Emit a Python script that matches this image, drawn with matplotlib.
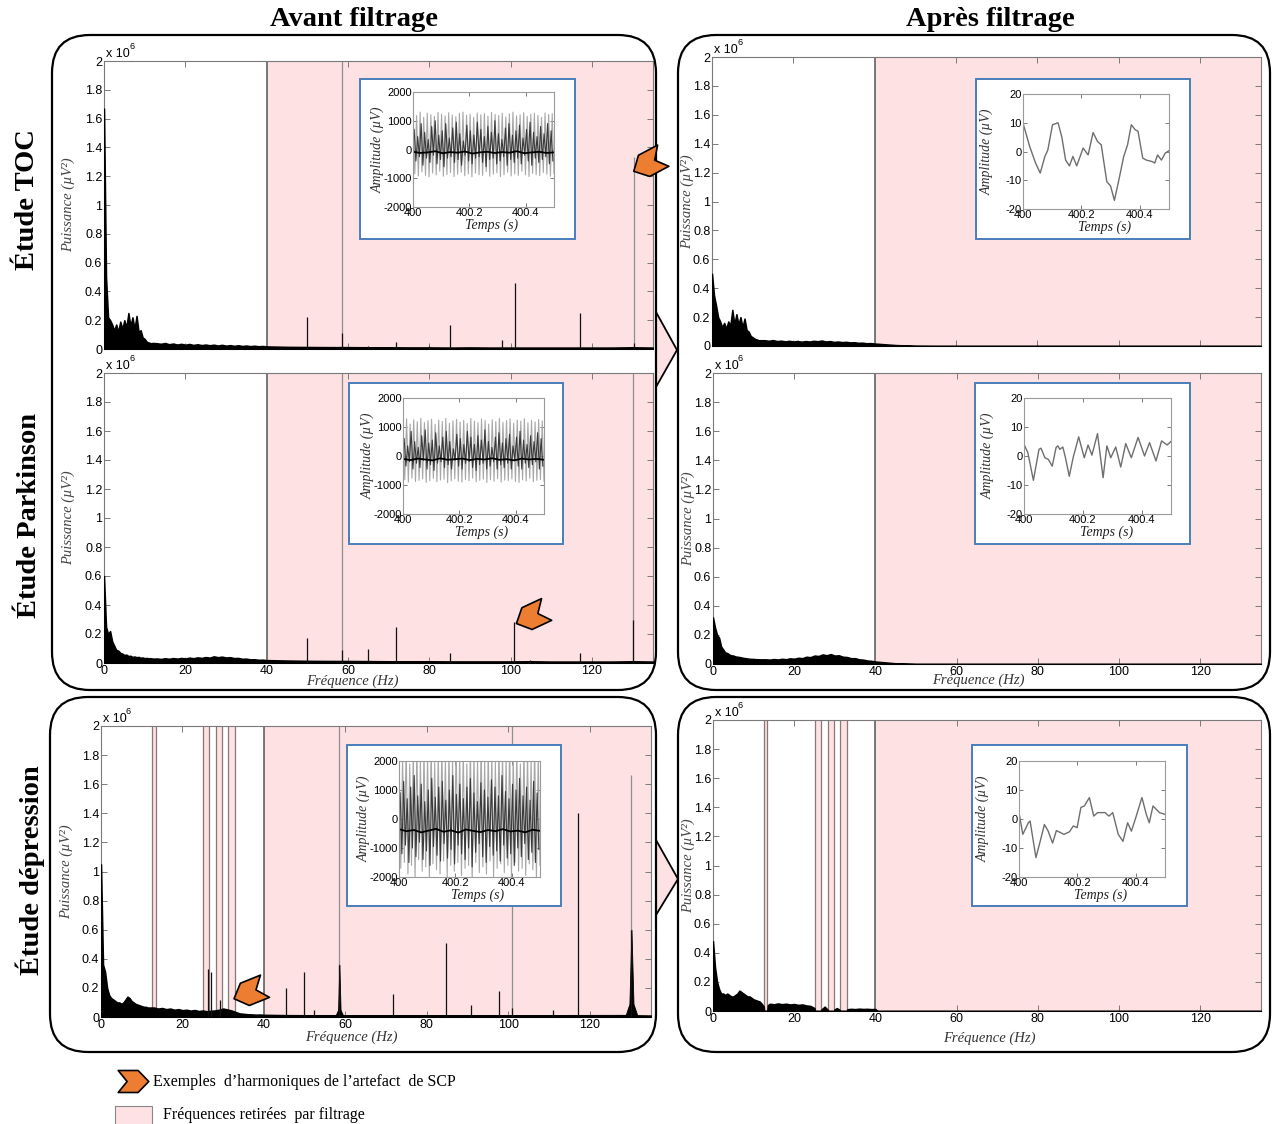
import numpy as np
import matplotlib
matplotlib.use("Agg")
import matplotlib.pyplot as plt
from matplotlib.patches import FancyBboxPatch, Rectangle, Polygon
from matplotlib.path import Path
from matplotlib.markers import MarkerStyle
from matplotlib.transforms import Affine2D
from matplotlib.ticker import FuncFormatter, FixedLocator
from matplotlib.lines import Line2D

# ======================= DATA =======================
# Power spectra (units of 1e6 uV^2) on a common frequency grid (Hz)
FREQ = [0, 0.5, 1, 1.5, 2, 2.5, 3, 3.5, 4, 4.5, 5, 5.5, 6, 6.5, 7, 7.5, 8, 8.5, 9, 9.5,
        10, 10.5, 11, 11.5, 12,
        13, 14, 15, 16, 17, 18, 19, 20, 21, 22, 23, 24, 25, 26, 27, 28, 29, 30, 31, 32, 33, 34,
        35, 36, 37, 38, 39, 40,
        45, 50, 55, 60, 65, 70, 75, 80, 85, 90, 95, 100, 105, 110, 115, 120, 125, 130, 135]

TOC_AVANT = [1.67, 0.50, 0.22, 0.20, 0.17, 0.13, 0.17, 0.12, 0.19, 0.14, 0.20, 0.15, 0.25, 0.16,
             0.22, 0.14, 0.23, 0.12, 0.13, 0.08, 0.07, 0.05, 0.045, 0.04, 0.042,
             0.04, 0.036, 0.042, 0.033, 0.038, 0.031, 0.036, 0.03, 0.035, 0.028, 0.033, 0.027, 0.031,
             0.026, 0.03, 0.024, 0.029, 0.023, 0.027, 0.022, 0.026, 0.021, 0.024, 0.02, 0.023, 0.019,
             0.021, 0.018,
             0.015, 0.014, 0.013, 0.013, 0.012, 0.012, 0.011, 0.011, 0.010, 0.011, 0.010, 0.010, 0.010,
             0.010, 0.010, 0.010, 0.010, 0.012, 0.010]
TOC_APRES = [0.50, 0.35, 0.28, 0.20, 0.17, 0.13, 0.16, 0.12, 0.17, 0.14, 0.25, 0.15, 0.22, 0.15,
             0.20, 0.13, 0.19, 0.11, 0.10, 0.07, 0.06, 0.05, 0.045, 0.04, 0.04,
             0.04, 0.036, 0.041, 0.034, 0.037, 0.032, 0.036, 0.031, 0.035, 0.03, 0.034, 0.031, 0.036,
             0.033, 0.038, 0.031, 0.034, 0.028, 0.031, 0.027, 0.029, 0.025, 0.026, 0.022, 0.023, 0.019,
             0.02, 0.017,
             0.007, 0.001, 0, 0, 0, 0, 0, 0, 0, 0, 0, 0, 0, 0, 0, 0, 0, 0, 0]
PARK_AVANT = [0.60, 0.25, 0.20, 0.22, 0.15, 0.12, 0.09, 0.085, 0.07, 0.065, 0.055, 0.058, 0.048, 0.05,
              0.042, 0.045, 0.04, 0.042, 0.036, 0.038, 0.033, 0.035, 0.032, 0.033, 0.03,
              0.031, 0.028, 0.033, 0.029, 0.034, 0.03, 0.035, 0.031, 0.037, 0.033, 0.039, 0.035, 0.041,
              0.037, 0.046, 0.04, 0.044, 0.038, 0.04, 0.034, 0.035, 0.029, 0.03, 0.025, 0.026, 0.022,
              0.023, 0.02,
              0.017, 0.015, 0.014, 0.014, 0.013, 0.012, 0.012, 0.012, 0.011, 0.011, 0.011, 0.011, 0.012,
              0.010, 0.010, 0.010, 0.010, 0.012, 0.010]
PARK_APRES = [0.32, 0.25, 0.20, 0.18, 0.12, 0.10, 0.08, 0.075, 0.065, 0.06, 0.058, 0.052, 0.05, 0.048,
              0.045, 0.042, 0.04, 0.038, 0.036, 0.035, 0.035, 0.033, 0.033, 0.032, 0.032,
              0.032, 0.03, 0.034, 0.031, 0.036, 0.033, 0.039, 0.036, 0.043, 0.04, 0.05, 0.047, 0.058,
              0.055, 0.066, 0.06, 0.068, 0.058, 0.06, 0.05, 0.048, 0.04, 0.04, 0.032, 0.03, 0.024,
              0.022, 0.017,
              0.005, 0, 0, 0, 0, 0, 0, 0, 0, 0, 0, 0, 0, 0, 0, 0, 0, 0, 0]
DEP_AVANT = [1.05, 0.36, 0.31, 0.20, 0.15, 0.13, 0.12, 0.11, 0.10, 0.10, 0.09, 0.10, 0.12, 0.14,
             0.13, 0.11, 0.10, 0.09, 0.085, 0.08, 0.075, 0.07, 0.07, 0.065, 0.065,
             0.065, 0.058, 0.062, 0.054, 0.058, 0.05, 0.054, 0.047, 0.05, 0.044, 0.048, 0.041, 0.045,
             0.039, 0.043, 0.045, 0.05, 0.058, 0.052, 0.045, 0.035, 0.025, 0.022, 0.019, 0.018, 0.016,
             0.017, 0.015,
             0.013, 0.012, 0.012, 0.012, 0.011, 0.011, 0.011, 0.011, 0.011, 0.010, 0.011, 0.010, 0.010,
             0.010, 0.010, 0.010, 0.010, 0.012, 0.010]
DEP_APRES_FREQ = [0, 0.5, 1, 1.5, 2, 2.5, 3, 3.5, 4, 4.5, 5, 5.5, 6, 6.5, 7, 7.5, 8, 8.5, 9, 9.5, 10,
                  10.5, 11, 11.5, 12, 12.5, 12.6, 13.4, 13.5, 14, 15, 16, 17, 18, 19, 20, 21, 22, 23,
                  24, 25, 25.1, 26.6, 26.7, 27.5, 28.2, 28.3, 29.8, 29.9, 30.5, 31.1, 31.2, 33.0, 33.1,
                  34, 35, 36, 37, 38, 39, 40, 40.3, 40.5, 135]
DEP_APRES = [0.48, 0.30, 0.20, 0.15, 0.12, 0.12, 0.11, 0.12, 0.11, 0.10, 0.10, 0.11, 0.12, 0.14, 0.13,
             0.12, 0.11, 0.10, 0.10, 0.09, 0.08, 0.075, 0.07, 0.065, 0.05, 0.03, 0, 0, 0.04, 0.05,
             0.046, 0.052, 0.047, 0.05, 0.045, 0.048, 0.042, 0.045, 0.038, 0.035, 0.02, 0, 0, 0.01,
             0.03, 0.01, 0, 0, 0.01, 0.02, 0.01, 0, 0, 0.012, 0.015, 0.013, 0.016, 0.014, 0.015, 0.013,
             0.014, 0.005, 0, 0]

# Narrow harmonic peaks (Hz, 1e6 uV^2)
TOC_PEAK_F = [49.9, 58.5, 65.0, 71.9, 80.0, 85.2, 97.8, 101.0, 117.0, 130.3]
TOC_PEAK_H = [0.22, 0.11, 0.02, 0.05, 0.02, 0.17, 0.06, 0.46, 0.25, 0.04]
TOC_SAT_F = [58.5, 130.3]
TOC_SAT_H = [2.5, 1.33]
PARK_PEAK_F = [50.0, 58.5, 65.0, 71.7, 85.0, 100.9, 104.7, 117.1, 130.1]
PARK_PEAK_H = [0.17, 0.09, 0.10, 0.25, 0.07, 0.28, 0.02, 0.07, 0.30]
PARK_SAT_F = [58.5, 130.1]
PARK_SAT_H = [2.5, 2.5]
DEP_PEAK_F = [26.3, 27.0, 29.2, 45.5, 49.9, 52.3, 58.5, 71.6, 84.6, 90.8, 97.8, 100.9, 110.9, 117.0, 130.2]
DEP_PEAK_H = [0.33, 0.31, 0.12, 0.20, 0.31, 0.05, 0.36, 0.16, 0.51, 0.08, 0.18, 0.06, 0.05, 1.40, 0.60]
DEP_SAT_F = [58.5, 100.9, 130.2]
DEP_SAT_H = [2.5, 2.5, 1.66]
DEP_SKIRT_F = [57.6, 58.2, 58.5, 58.8, 59.4, 128.8, 129.7, 130.2, 130.7, 131.6]
DEP_SKIRT_H = [0.012, 0.05, 0.36, 0.05, 0.012, 0.015, 0.09, 0.60, 0.09, 0.015]

CUTOFF = 40
FMAX = 135
DEP_NOTCH_LO = [12.6, 25.1, 28.3, 31.2]
DEP_NOTCH_HI = [13.4, 26.6, 29.8, 33.0]
XTICKS = [0, 20, 40, 60, 80, 100, 120]
YTICKS = [0, 0.2, 0.4, 0.6, 0.8, 1, 1.2, 1.4, 1.6, 1.8, 2]

# Inset signals before filtering (uV): peaks/troughs of light and dark traces, centre trace
TOC_LIGHT_HI = [1250, 1180, 1300, 1120, 1260, 1210, 1150, 1290, 1230, 1170, 1280, 1200, 1140, 1260, 1300,
                1190, 1230, 1120, 1270, 1210, 1250, 1160, 1290, 1220, 1180, 1260, 1130, 1240, 1300, 1170,
                1210, 1280, 1150, 1230, 1260, 1190, 1120, 1270, 1220, 1250]
TOC_LIGHT_LO = [-850, -920, -780, -900, -950, -820, -880, -760, -930, -870, -800, -940, -860, -790, -910,
                -850, -950, -820, -880, -900, -770, -930, -860, -810, -940, -880, -790, -920, -850, -900,
                -760, -880, -940, -830, -870, -910, -800, -860, -930, -840]
TOC_DARK_HI = [700, 450, 900, 600, 350, 800, 1000, 500, 650, 900, 400, 750, 950, 550, 300, 850, 650, 500,
               950, 700, 450, 800, 600, 1000, 550, 350, 750, 900, 500, 650, 850, 400, 700, 950, 600, 450,
               800, 550, 900, 650]
TOC_DARK_LO = [-400, -250, -550, -300, -450, -200, -500, -350, -600, -300, -250, -450, -350, -550, -200,
               -400, -500, -300, -250, -450, -600, -350, -300, -500, -400, -250, -550, -350, -450, -300,
               -500, -200, -400, -550, -300, -450, -350, -250, -500, -400]
TOC_CENTER = [-80, -120, -100, -60, -130, -90, -110, -70, -140, -100, -80, -120, -90, -110, -60, -130,
              -100, -80, -120, -100]

PARK_LIGHT_HI = [1200, 1280, 1100, 1250, 1180, 1300, 1150, 1220, 1270, 1090, 1240, 1190, 1300, 1130, 1210,
                 1260, 1170, 1230, 1120, 1290, 1200, 1150, 1270, 1230, 1100, 1250, 1190, 1300, 1160, 1220,
                 1280, 1130, 1240, 1200, 1290, 1150, 1230, 1180, 1260, 1210]
PARK_LIGHT_LO = [-820, -900, -760, -880, -840, -790, -910, -850, -770, -890, -830, -800, -920, -860, -780,
                 -870, -900, -810, -850, -760, -890, -840, -800, -910, -820, -870, -780, -900, -830, -850,
                 -790, -880, -910, -820, -860, -770, -890, -840, -810, -870]
PARK_DARK_HI = [600, 350, 850, 500, 300, 700, 900, 450, 550, 800, 350, 650, 850, 500, 250, 750, 600, 400,
                850, 650, 400, 700, 550, 900, 500, 300, 650, 800, 450, 600, 750, 350, 650, 850, 550, 400,
                700, 500, 800, 600]
PARK_DARK_LO = [-350, -200, -450, -250, -400, -150, -450, -300, -500, -250, -200, -400, -300, -450, -150,
                -350, -450, -250, -200, -400, -500, -300, -250, -450, -350, -200, -450, -300, -400, -250,
                -450, -150, -350, -450, -250, -400, -300, -200, -450, -350]
PARK_CENTER = [-100, -140, -90, -120, -150, -80, -130, -110, -90, -140, -100, -120, -80, -130, -110, -150,
               -90, -120, -100, -130]

DEP_LIGHT_HI = [2400, 2100, 2600, 1900, 2300, 2500, 2000, 2400, 2200, 2600, 1950, 2300, 2500, 2100, 2400,
                2000, 2600, 2200, 2350, 1900, 2500, 2300, 2100, 2600, 2000, 2400, 2250, 1950, 2500, 2300,
                2100, 2600, 2200, 2400, 1900, 2500, 2300, 2050, 2600, 2200]
DEP_LIGHT_LO = [-1700, -1500, -1900, -1600, -2100, -1400, -1800, -1650, -2000, -1550, -1750, -1900, -1450,
                -2050, -1600, -1800, -1500, -1950, -1700, -1600, -2100, -1500, -1850, -1650, -1900, -1450,
                -2000, -1700, -1550, -1850, -1600, -2050, -1500, -1800, -1700, -1950, -1550, -1750, -2100,
                -1600]
DEP_DARK_HI = [900, 1300, 700, 1100, 1500, 800, 1200, 600, 1000, 1400, 750, 1100, 1300, 650, 1000, 1500,
               850, 1200, 700, 1100, 1400, 900, 600, 1250, 1000, 750, 1350, 1100, 800, 1500, 950, 700,
               1200, 1000, 1400, 800, 1100, 650, 1300, 900]
DEP_DARK_LO = [-1200, -900, -1500, -1000, -1300, -800, -1400, -1100, -1600, -950, -1250, -1450, -850,
               -1350, -1050, -1550, -900, -1200, -1400, -1000, -1650, -1150, -850, -1300, -1500, -950,
               -1250, -1100, -1450, -900, -1350, -1200, -1600, -1000, -1300, -850, -1400, -1150, -1500,
               -1050]
DEP_CENTER = [-350, -420, -380, -460, -400, -340, -440, -390, -470, -360, -410, -450, -380, -420, -350,
              -430, -400, -460, -370, -410]

# Inset signals after filtering (time s, amplitude uV)
TOC_AP_T = [400.000, 400.023, 400.043, 400.059, 400.075, 400.085, 400.101, 400.120, 400.133, 400.146,
            400.159, 400.171, 400.184, 400.206, 400.223, 400.240, 400.255, 400.268, 400.287, 400.300,
            400.313, 400.326, 400.345, 400.358, 400.371, 400.384, 400.394, 400.410, 400.423, 400.442,
            400.451, 400.461, 400.474, 400.487, 400.500]
TOC_AP_V = [9.9, 1.7, -4, -7.5, -1.7, 0.5, 9.3, 10, 5, -3, -5, -1.7, -5, 1.2, -1.2, 6.6, 3.5, 2.3, -10.5,
            -12, -17, -11, -1.7, 2.3, 9.3, 7.6, 7, -2.3, -3, -3.5, -4, -1.2, -3, -0.6, 0.3]
PARK_AP_T = [400.000, 400.013, 400.032, 400.051, 400.058, 400.071, 400.083, 400.096, 400.109, 400.115,
             400.122, 400.132, 400.141, 400.154, 400.167, 400.186, 400.205, 400.218, 400.231, 400.250,
             400.269, 400.282, 400.295, 400.312, 400.329, 400.346, 400.365, 400.388, 400.410, 400.427,
             400.449, 400.468, 400.487, 400.500]
PARK_AP_V = [4, 1.2, -8.4, 2.3, 2.7, -0.6, -1.2, -3.5, 2.9, 3.5, 2.3, 3.1, -0.6, -7, -0.6, 6.6, -0.6, 3.8,
             0.3, 7.7, -7.5, 3.5, -0.6, 3.1, -3.8, 4.3, -0.6, 6.4, 0, 4.6, -1.7, 5.2, 3.8, 5]
DEP_AP_T = [400.000, 400.013, 400.032, 400.038, 400.058, 400.071, 400.087, 400.100, 400.115, 400.128,
            400.144, 400.154, 400.173, 400.186, 400.199, 400.212, 400.224, 400.241, 400.256, 400.269,
            400.295, 400.308, 400.321, 400.340, 400.356, 400.372, 400.385, 400.400, 400.421, 400.436,
            400.446, 400.459, 400.481, 400.500]
DEP_AP_V = [2.2, -5.3, -1.3, -0.7, -13.3, -8.3, -1.9, -4.2, -8.3, -4, -4.8, -5.3, -4.4, -2.4, -3, 4, 4.5,
            7.4, 1, 2.2, 2.2, 1, 2.2, -5.3, -7.7, -1.3, -4.2, 0.5, 7.4, 1.6, -1.3, 4.5, 2.2, 1.6]

INSET_XTICKS = [400, 400.2, 400.4]
INSET_XTICKLABELS = ["400", "400.2", "400.4"]
AVANT_YTICKS = [-2000, -1000, 0, 1000, 2000]
APRES_YTICKS = [-20, -10, 0, 10, 20]

TITLES = ["Avant filtrage", "Après filtrage"]
ROWS = ["Étude TOC", "Étude Parkinson", "Étude dépression"]
LEGEND_TEXT = ["Exemples  d\u2019harmoniques de l\u2019artefact  de SCP", "Fréquences retirées  par filtrage"]

# ======================= STYLE / LAYOUT =======================
W, H = 1272, 1124
PINK = "#fde1e3"
ORANGE = "#ED7D31"
FRAME = "#7a7a7a"
SERIF = "Liberation Serif"
SANS = "Liberation Sans"
plt.rcParams["font.family"] = SANS
plt.rcParams["axes.unicode_minus"] = False

fig = plt.figure(figsize=(W / 100, H / 100), dpi=100)


def px_axes(l, t, r, b, z=1):
    return fig.add_axes([l / W, 1 - b / H, (r - l) / W, (b - t) / H], zorder=z)


def style_frame(ax, size=9, pad=1.2, length=4):
    for s in ax.spines.values():
        s.set_color(FRAME)
        s.set_linewidth(0.8)
    ax.tick_params(direction="in", top=True, right=True, length=length, width=0.7,
                   color=FRAME, labelsize=size, pad=pad, labelcolor="black")


def spectrum_panel(box, f, v, pk_f, pk_h, sat_f, sat_h, notch_lo, notch_hi, show_xt,
                   ylab_x, xlab_xy, skirt=None):
    ax = px_axes(*box)
    ax.set_xlim(0, FMAX)
    ax.set_ylim(0, 2)
    ax.axvspan(CUTOFF, FMAX, color=PINK, lw=0, zorder=0)
    for lo, hi in zip(notch_lo, notch_hi):
        ax.axvspan(lo, hi, color=PINK, lw=0, zorder=0)
        ax.axvline(lo, color="#8a7777", lw=0.9, zorder=1)
        ax.axvline(hi, color="#8a7777", lw=0.9, zorder=1)
    ax.axvline(CUTOFF, color="#555555", lw=1.1, zorder=1)
    if sat_f:
        ax.vlines(sat_f, 0, sat_h, color="#909090", lw=0.9, zorder=2)
    ax.fill_between(f, 0, v, color="black", lw=1.1, zorder=3)
    if skirt is not None:
        ax.fill_between(skirt[0], 0, skirt[1], color="black", lw=0.6, zorder=3)
    if pk_f:
        ax.vlines(pk_f, 0, pk_h, color="#111111", lw=0.9, zorder=4)
    ax.xaxis.set_major_locator(FixedLocator(XTICKS))
    ax.yaxis.set_major_locator(FixedLocator(YTICKS))
    ax.yaxis.set_major_formatter(FuncFormatter(lambda val, p: f"{val:g}"))
    style_frame(ax)
    if not show_xt:
        ax.tick_params(labelbottom=False)
    else:
        ax.set_xlabel("Fréquence (Hz)", fontfamily=SERIF, fontstyle="italic", fontsize=10.5,
                      color="#333333")
        ax.xaxis.set_label_coords(*xlab_xy)
    ax.set_ylabel("Puissance (µV²)", fontfamily=SERIF, fontstyle="italic", fontsize=10.5,
                  color="#444444")
    ax.yaxis.set_label_coords(ylab_x, 0.5)
    ax.text(0.004, 1.004, "x 10", transform=ax.transAxes, fontsize=9, ha="left", va="bottom")
    ax.annotate("6", xy=(0, 1), xycoords="axes fraction", xytext=(25, 10),
                textcoords="offset pixels", fontsize=6.5, ha="left", va="bottom")
    return ax


def zigzag(hi, lo):
    out = []
    for a, b in zip(hi, lo):
        out += [a, b]
    return out


def inset_axes(box, ylim, yticks):
    ax = px_axes(*box, z=7)
    ax.set_xlim(400, 400.5)
    ax.set_ylim(*ylim)
    ax.xaxis.set_major_locator(FixedLocator(INSET_XTICKS))
    ax.set_xticklabels(INSET_XTICKLABELS)
    ax.yaxis.set_major_locator(FixedLocator(yticks))
    style_frame(ax, size=8, pad=1, length=3)
    for s in ax.spines.values():
        s.set_color("#9a9a9a")
    ax.set_ylabel("Amplitude (µV)", fontfamily=SERIF, fontstyle="italic", fontsize=10,
                  color="#333333")
    ax.yaxis.set_label_coords(-0.2, 0.5)
    ax.set_xlabel("Temps (s)", fontfamily=SERIF, fontstyle="italic", fontsize=10, color="#222222")
    ax.xaxis.set_label_coords(0.56, -0.1)
    return ax


def inset_avant(box, lhi, llo, dhi, dlo, ctr):
    ax = inset_axes(box, (-2000, 2000), AVANT_YTICKS)
    lz = zigzag(lhi, llo)
    dz = zigzag(dhi, dlo)
    ax.plot(np.linspace(400, 400.5, len(lz)), lz, color="#a8a8a8", lw=0.8)
    ax.plot(np.linspace(400.004, 400.496, len(dz)), dz, color="#3a3a3a", lw=0.8)
    ax.plot(np.linspace(400, 400.5, len(ctr)), ctr, color="black", lw=1.3)
    return ax


def inset_apres(box, t, v):
    ax = inset_axes(box, (-20, 20), APRES_YTICKS)
    ax.plot(t, v, color="#6e6e6e", lw=1.0)
    return ax


# ---- main spectra panels ----
ax_toc_av = spectrum_panel((104, 61, 653, 349), FREQ, TOC_AVANT, TOC_PEAK_F, TOC_PEAK_H,
                           TOC_SAT_F, TOC_SAT_H, [], [], False, -0.053, None)
ax_par_av = spectrum_panel((104, 373, 653, 663), FREQ, PARK_AVANT, PARK_PEAK_F, PARK_PEAK_H,
                           PARK_SAT_F, PARK_SAT_H, [], [], True, -0.053, (0.452, -0.04))
ax_dep_av = spectrum_panel((101, 726, 651, 1017), FREQ, DEP_AVANT, DEP_PEAK_F, DEP_PEAK_H,
                           DEP_SAT_F, DEP_SAT_H, DEP_NOTCH_LO, DEP_NOTCH_HI, True, -0.05,
                           (0.456, -0.048), skirt=(DEP_SKIRT_F, DEP_SKIRT_H))
ax_toc_ap = spectrum_panel((712, 57, 1261, 346), FREQ, TOC_APRES, [], [], [], [], [], [],
                           False, -0.033, None)
ax_par_ap = spectrum_panel((713, 373, 1261, 664), FREQ, PARK_APRES, [], [], [], [], [], [],
                           True, -0.033, (0.485, -0.034))
ax_dep_ap = spectrum_panel((713, 720, 1261, 1011), DEP_APRES_FREQ, DEP_APRES, [], [], [], [],
                           DEP_NOTCH_LO, DEP_NOTCH_HI, True, -0.033, (0.505, -0.069))

# ---- overlay (boxes, frames, arrows, text) ----
ov = fig.add_axes([0, 0, 1, 1], zorder=5)
ov.set_xlim(0, W)
ov.set_ylim(H, 0)
ov.axis("off")
ov.patch.set_alpha(0)

for pts in [[(656, 312), (677, 350), (656, 387)], [(656, 840), (678, 879), (656, 915)]]:
    ov.add_patch(Polygon(pts, closed=True, fc=PINK, ec="black", lw=1.3))

for (l, t, r, b) in [(52, 35, 656, 690), (678, 35, 1270, 690), (50, 697, 656, 1052), (678, 697, 1270, 1052)]:
    ov.add_patch(FancyBboxPatch((l, t), r - l, b - t, boxstyle="round,pad=0,rounding_size=38",
                                fill=False, ec="black", lw=1.6))

for (l, t, r, b) in [(360, 79, 575, 239), (349, 383, 563, 544), (347, 745, 561, 906),
                     (976, 79, 1190, 239), (975, 383, 1190, 544), (972, 745, 1187, 906)]:
    ov.add_patch(Rectangle((l, t), r - l, b - t, fc="white", ec="#4a7ebb", lw=1.4))

CHEV = Path([(1, 0), (0.3, 0.72), (-1, 0.72), (-0.42, 0), (-1, -0.72), (0.3, -0.72), (1, 0)],
            closed=True)


def chevron(x, y, ang, trans, ms=24):
    m = MarkerStyle(CHEV, transform=Affine2D().rotate_deg(ang))
    ln = Line2D([x], [y], transform=trans, marker=m, ms=ms, mfc=ORANGE, mec="black", mew=1.2,
                ls="none", clip_on=False)
    ov.add_artist(ln)


chevron(133.8, 1.29, 208, ax_toc_av.transData)
chevron(105.0, 0.325, 205, ax_par_av.transData)
chevron(36.3, 0.172, 202, ax_dep_av.transData)
chevron(133, 1081, 0, ov.transData, ms=22)

ov.add_patch(Rectangle((115, 1106), 37, 20, fc=PINK, ec="#888888", lw=0.8))
ov.text(153, 1082, LEGEND_TEXT[0], fontfamily=SERIF, fontsize=11.5, va="center", ha="left")
ov.text(163, 1115, LEGEND_TEXT[1], fontfamily=SERIF, fontsize=11.5, va="center", ha="left")

ov.text(354, 20, TITLES[0], fontfamily=SERIF, fontweight="bold", fontsize=20.5, ha="center", va="center")
ov.text(990, 20, TITLES[1], fontfamily=SERIF, fontweight="bold", fontsize=20.5, ha="center", va="center")
for (x, y), s in zip([(28, 200), (30, 515), (30, 870)], ROWS):
    ov.text(x, y, s, fontfamily=SERIF, fontweight="bold", fontsize=20.5, rotation=90,
            ha="center", va="center")

# ---- insets ----
inset_avant((413, 92, 554, 207), TOC_LIGHT_HI, TOC_LIGHT_LO, TOC_DARK_HI, TOC_DARK_LO, TOC_CENTER)
inset_avant((403, 398, 544, 514), PARK_LIGHT_HI, PARK_LIGHT_LO, PARK_DARK_HI, PARK_DARK_LO, PARK_CENTER)
inset_avant((399, 761, 540, 877), DEP_LIGHT_HI, DEP_LIGHT_LO, DEP_DARK_HI, DEP_DARK_LO, DEP_CENTER)
inset_apres((1023, 94, 1169, 209), TOC_AP_T, TOC_AP_V)
inset_apres((1024, 398, 1171, 514), PARK_AP_T, PARK_AP_V)
inset_apres((1019, 761, 1165, 877), DEP_AP_T, DEP_AP_V)

ov.set_xlim(0, W)
ov.set_ylim(H, 0)
fig.savefig("out.png", dpi=100)
